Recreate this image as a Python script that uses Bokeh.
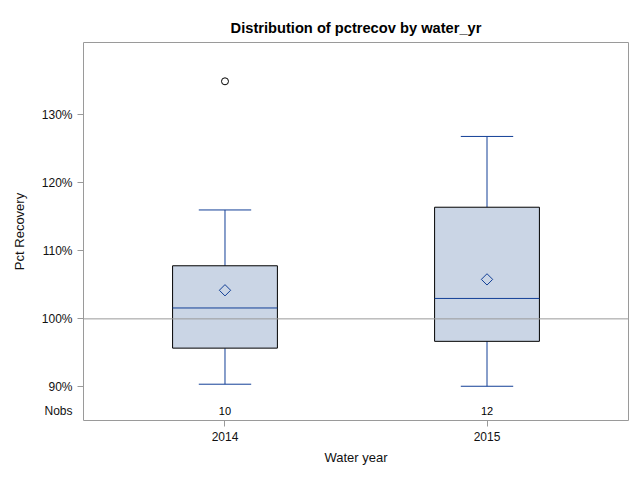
from bokeh.plotting import figure
from bokeh.models import Range1d, FixedTicker, Span, LinearAxis
from bokeh.embed import file_html
from bokeh.resources import INLINE
from bokeh.core.properties import value

# ---- data ----
categories = ["2014", "2015"]
q1 = [95.7, 96.7]
median = [101.6, 103.0]
q3 = [107.8, 116.4]
lower_whisker = [90.4, 90.1]
upper_whisker = [116.0, 126.8]
means = [104.2, 105.8]
outlier_cat = ["2014"]
outlier_val = [134.9]
nobs = [10, 12]
y_ticks = [90, 100, 110, 120, 130]
y_tick_labels = ["90%", "100%", "110%", "120%", "130%"]
nobs_label = "Nobs"
nobs_y = 86.5
reference_value = 100

FONT = "Liberation Sans"
BLUE = "#123F96"
FILL = "#CAD5E5"
GRAY = "#9A9A9A"

xpos = [i + 1 for i in range(len(categories))]
pos_of = {c: i + 1 for i, c in enumerate(categories)}

p = figure(width=632, height=472, output_backend="svg", toolbar_location=None,
           x_range=Range1d(0.46, 2.54), y_range=Range1d(85.07, 140.6),
           title="Distribution of pctrecov by water_yr",
           min_border_left=83, min_border_right=4, min_border_top=42, min_border_bottom=52)

p.title.align = "center"
p.title.text_font = FONT
p.title.text_font_size = "11pt"
p.title.text_font_style = "bold"
p.title.text_color = "#000000"
p.title.standoff = 14

p.xgrid.visible = False
p.ygrid.visible = False
p.outline_line_color = GRAY
p.outline_line_width = 1
p.background_fill_color = "white"
p.border_fill_color = "white"

def style(ax):
    ax.axis_line_color = None
    ax.major_tick_line_color = GRAY
    ax.minor_tick_line_color = None
    ax.major_tick_in = 0
    ax.major_tick_out = 6
    ax.major_label_text_font = FONT
    ax.major_label_text_font_size = "12px"
    ax.major_label_text_color = "#111111"
    ax.axis_label_text_font = FONT
    ax.axis_label_text_font_size = "13px"
    ax.axis_label_text_font_style = "normal"
    ax.axis_label_text_color = "#111111"

# inner y axis: tick marks only
ya = p.yaxis[0]
style(ya)
ya.ticker = FixedTicker(ticks=y_ticks)
ya.major_label_overrides = {t: "" for t in y_ticks}
ya.major_label_text_font_size = "0px"
ya.major_label_standoff = 0

# outer y axis: labels (incl. Nobs row), no tick marks
yl = LinearAxis(y_range_name="default")
style(yl)
yl.major_tick_out = 0
yl.major_tick_line_color = None
yl.ticker = FixedTicker(ticks=[nobs_y] + y_ticks)
overrides = {t: l for t, l in zip(y_ticks, y_tick_labels)}
overrides[nobs_y] = nobs_label
yl.major_label_overrides = overrides
yl.major_label_standoff = 5
yl.axis_label = "Pct Recovery"
yl.axis_label_standoff = 12
p.add_layout(yl, "left")

xa = p.xaxis[0]
style(xa)
xa.ticker = FixedTicker(ticks=xpos)
xa.major_label_overrides = {x: c for x, c in zip(xpos, categories)}
xa.axis_label = "Water year"
xa.axis_label_standoff = 6
xa.major_label_standoff = 5

# reference line
p.add_layout(Span(location=reference_value, dimension="width",
                  line_color=GRAY, line_width=1))

# whiskers
p.segment(x0=xpos, y0=q3, x1=xpos, y1=upper_whisker, line_color=BLUE, line_width=1)
p.segment(x0=xpos, y0=q1, x1=xpos, y1=lower_whisker, line_color=BLUE, line_width=1)
cap_half = 0.1
p.segment(x0=[x - cap_half for x in xpos], y0=upper_whisker,
          x1=[x + cap_half for x in xpos], y1=upper_whisker, line_color=BLUE, line_width=1)
p.segment(x0=[x - cap_half for x in xpos], y0=lower_whisker,
          x1=[x + cap_half for x in xpos], y1=lower_whisker, line_color=BLUE, line_width=1)

# boxes
p.vbar(x=xpos, width=0.4, bottom=q1, top=q3, fill_color=FILL,
       line_color="#000000", line_width=1)

# median
box_half = 0.2
p.segment(x0=[x - box_half for x in xpos], y0=median,
          x1=[x + box_half for x in xpos], y1=median, line_color=BLUE, line_width=1)

# mean diamond
p.scatter(x=xpos, y=means, marker="square", angle=0.785398, size=8,
          fill_color=None, line_color=BLUE, line_width=1)

# outliers
p.scatter(x=[pos_of[c] for c in outlier_cat], y=outlier_val, marker="circle", size=7,
          fill_color=None, line_color="#000000", line_width=1)

# Nobs values
p.text(x=xpos, y=[nobs_y] * len(xpos), text=[str(n) for n in nobs],
       text_font=value(FONT), text_font_size="11px", text_align="center",
       text_baseline="middle", text_color="#000000")

open("out.html", "w").write(file_html(p, INLINE))
